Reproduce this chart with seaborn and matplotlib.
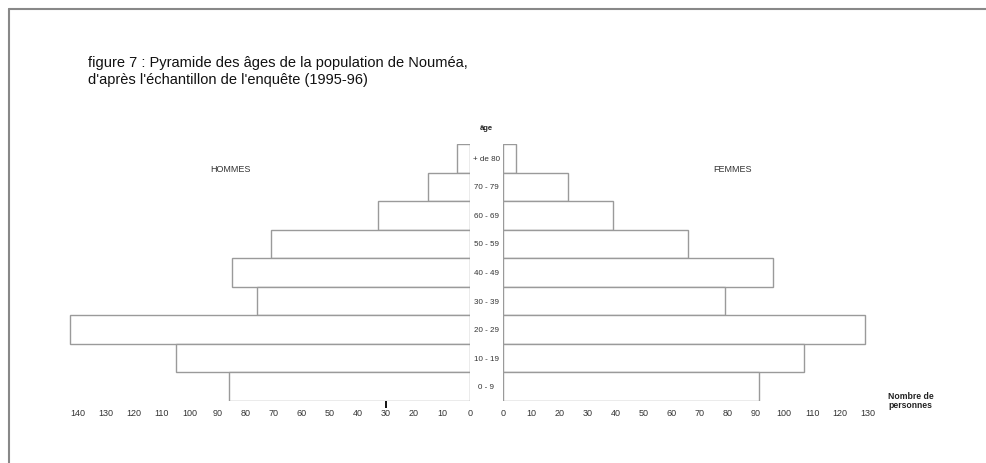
import pandas as pd
import seaborn as sns
import matplotlib.pyplot as plt

# age classes, from oldest (top) to youngest (bottom)
ages = ["+ de 80", "70 - 79", "60 - 69", "50 - 59", "40 - 49",
        "30 - 39", "20 - 29", "10 - 19", "0 - 9"]
hommes = [4.5, 15, 33, 71, 85, 76, 143, 105, 86]
femmes = [4.5, 23, 39, 66, 96, 79, 129, 107, 91]
ticks_h = list(range(0, 150, 10))
ticks_f = list(range(0, 140, 10))

df = pd.DataFrame({"age": ages, "hommes": hommes, "femmes": femmes})

sns.set_style("white")
plt.rcParams["font.family"] = ["Liberation Sans", "DejaVu Sans"]

W, H = 987, 463
fig = plt.figure(figsize=(W / 100, H / 100), dpi=100)


def px_axes(x0, x1, ytop, ybot):
    return fig.add_axes([x0 / W, (H - ybot) / H, (x1 - x0) / W, (ybot - ytop) / H])


ax_l = px_axes(60, 470, 144, 401)
ax_r = px_axes(503, 880, 144, 401)

edge = "#9a9a9a"
sns.barplot(data=df, y="age", x="hommes", order=ages, orient="h", width=1.0,
            color="white", edgecolor=edge, linewidth=1.0, ax=ax_l)
sns.barplot(data=df, y="age", x="femmes", order=ages, orient="h", width=1.0,
            color="white", edgecolor=edge, linewidth=1.0, ax=ax_r)

ax_l.set_xlim(410 / 2.8, 0)
ax_r.set_xlim(0, 377 / 2.81)
for ax in (ax_l, ax_r):
    ax.set_ylim(8.5, -0.5)
    ax.set_xlabel("")
    ax.set_ylabel("")
    for s in ax.spines.values():
        s.set_visible(False)
    ax.tick_params(axis="x", length=0, pad=6, labelsize=6.5, labelcolor="#333333")

ax_l.set_xticks(ticks_h)
ax_l.set_xticklabels([str(t) for t in ticks_h])
ax_r.set_xticks(ticks_f)
ax_r.set_xticklabels([str(t) for t in ticks_f])

# small stray tick under the men's side
ax_l.xaxis.remove_overlapping_locs = False
ax_l.set_xticks([30], minor=True)
ax_l.tick_params(axis="x", which="minor", bottom=True, length=5, width=1.3,
                 color="black", direction="out")

ax_l.set_yticks([])
ax_r.set_yticks(range(len(ages)))
ax_r.set_yticklabels(ages, ha="center")
ax_r.tick_params(axis="y", length=0, pad=12, labelsize=5.8, labelcolor="#333333")

fig.text(88 / W, 1 - 63 / H, "figure 7 : Pyramide des âges de la population de Nouméa,",
         fontsize=10.5, va="center", color="#111111")
fig.text(88 / W, 1 - 80 / H, "d'après l'échantillon de l'enquête (1995-96)",
         fontsize=10.5, va="center", color="#111111")
fig.text(486 / W, 1 - 128 / H, "âge", fontsize=5.5, fontweight="bold", ha="center", va="center")
fig.text(230 / W, 1 - 169 / H, "HOMMES", fontsize=6.5, ha="center", va="center", color="#333333")
fig.text(733 / W, 1 - 169 / H, "FEMMES", fontsize=6.5, ha="center", va="center", color="#333333")
fig.text(888 / W, 1 - 401 / H, "Nombre de\npersonnes", fontsize=6.2, fontweight="bold",
         ha="left", va="center", linespacing=0.9, color="#222222")

# page frame (top and left edges)
fig.add_artist(plt.Line2D([9 / W, 9 / W], [0, 1 - 9 / H], color="#888888", lw=1.5,
                          transform=fig.transFigure))
fig.add_artist(plt.Line2D([9 / W, 1], [1 - 9 / H, 1 - 9 / H], color="#888888", lw=1.5,
                          transform=fig.transFigure))

fig.savefig("out.png", dpi=100)
